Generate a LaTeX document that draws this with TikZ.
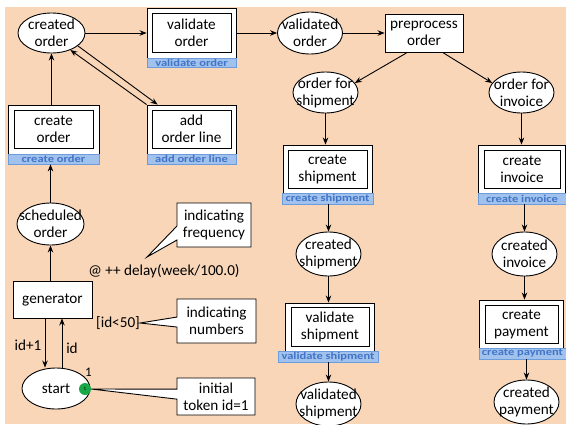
\documentclass[tikz,border=0pt]{standalone}
\usepackage{fontspec}
\setmainfont{Carlito}
\newfontfamily\lblfont[FakeStretch=1.2]{Carlito}
\usetikzlibrary{shapes.geometric,shapes.callouts,arrows.meta}
\definecolor{peach}{RGB}{249,214,184}
\definecolor{barfill}{RGB}{160,194,236}
\definecolor{barline}{RGB}{108,156,220}
\definecolor{bartext}{RGB}{66,116,200}
\definecolor{tokgreen}{RGB}{24,168,72}
\begin{document}
\begin{tikzpicture}[x=1pt,y=-1pt,
  txt/.style={font=\fontsize{15.2}{17}\selectfont, align=center, inner sep=0pt},
  place/.style={ellipse, draw, fill=white, line width=0.9pt, inner sep=0pt},
  outerbox/.style={draw, fill=white, line width=0.9pt, inner sep=0pt},
  innerbox/.style={draw, line width=0.9pt, inner sep=0pt, txt},
  bar/.style={draw=barline, fill=barfill, text=bartext, inner sep=0pt, line width=0.8pt,
    font={\lblfont\bfseries\fontsize{10.4}{12}\selectfont}},
  arr/.style={-{Stealth[length=7pt,width=5.5pt]}, line width=0.9pt},
  note/.style={rectangle callout, draw, fill=white, line width=0.9pt, inner sep=0pt, txt}
]
\useasboundingbox (0,0) rectangle (566,424);
\fill[white] (0,0) rectangle (566,424);
\fill[peach] (5,7) rectangle (566,424);

% ---------- places ----------
\node[place, minimum width=67, minimum height=40] (co) at (51.5,33) {};
\node[txt] (co-t) at (co) {created\\order};
\node[place, minimum width=65, minimum height=42] (vdo) at (310,33) {};
\node[txt] (vdo-t) at (vdo) {validated\\order};
\node[place, minimum width=65, minimum height=41] (ofs) at (325.5,92.5) {};
\node[txt] (ofs-t) at (ofs) {order for\\shipment};
\node[place, minimum width=65, minimum height=41] (ofi) at (521.5,92.5) {};
\node[txt] (ofi-t) at (ofi) {order for\\invoice};
\node[place, minimum width=65, minimum height=44] (crs) at (328.5,254) {};
\node[txt] (crs-t) at (crs) {created\\shipment};
\node[place, minimum width=65, minimum height=44] (cri) at (524.5,254) {};
\node[txt] (cri-t) at (cri) {created\\invoice};
\node[place, minimum width=65, minimum height=44] (vds) at (328.5,404) {};
\node[txt] (vds-t) at (vds) {validated\\shipment};
\node[place, minimum width=65, minimum height=44] (crp) at (526.5,402) {};
\node[txt] (crp-t) at (crp) {created\\payment};
\node[place, minimum width=67, minimum height=42] (so) at (50.5,224) {};
\node[txt] (so-t) at (so) {scheduled\\order};
\node[place, minimum width=68, minimum height=41] (st) at (56,388.5) {};
\node[txt] (st-t) at (st) {start};

% ---------- transitions ----------
\node[outerbox, minimum width=89, minimum height=50] (vo) at (191.5,33) {};
\node[innerbox, minimum width=79, minimum height=39] (vo-i) at (191.5,32.5) {validate\\order};
\node[bar, minimum width=89, minimum height=9] (vo-b) at (191.5,62.5) {validate order};

\node[outerbox, minimum width=91, minimum height=49] (cro) at (53.5,129.5) {};
\node[innerbox, minimum width=79, minimum height=38] (cro-i) at (53.5,129) {create\\order};
\node[bar, minimum width=91, minimum height=10] (cro-b) at (53.5,159) {create order};

\node[outerbox, minimum width=89, minimum height=49] (aol) at (191.5,129.5) {};
\node[innerbox, minimum width=79, minimum height=38] (aol-i) at (191.5,129) {add\\order line};
\node[bar, minimum width=89, minimum height=10] (aol-b) at (191.5,159) {add order line};

\node[outerbox, minimum width=89, minimum height=48] (cs) at (327.5,169) {};
\node[innerbox, minimum width=79, minimum height=38] (cs-i) at (327.5,169) {create\\shipment};
\node[bar, minimum width=91, minimum height=11] (cs-b) at (327.5,198.5) {create shipment};

\node[outerbox, minimum width=87, minimum height=48] (ci) at (521.5,169) {};
\node[innerbox, minimum width=76, minimum height=38] (ci-i) at (522,169) {create\\invoice};
\node[bar, minimum width=88, minimum height=11] (ci-b) at (522,198.5) {create invoice};

\node[outerbox, minimum width=89, minimum height=48] (vs) at (329.5,327) {};
\node[innerbox, minimum width=78, minimum height=39] (vs-i) at (330,326.5) {validate\\shipment};
\node[bar, minimum width=100, minimum height=11] (vs-b) at (328,356.5) {validate shipment};

\node[outerbox, minimum width=84, minimum height=48] (cp) at (521,324) {};
\node[innerbox, minimum width=73, minimum height=38] (cp-i) at (521.5,324) {create\\payment};
\node[bar, minimum width=87, minimum height=11] (cp-b) at (522.5,353.5) {create payment};

\node[outerbox, txt, minimum width=78, minimum height=38] (pp) at (424,33.5) {preprocess\\order};
\node[outerbox, txt, minimum width=79, minimum height=37] (gen) at (52.5,299.5) {generator};

% ---------- token ----------
\node[circle, fill=tokgreen, minimum size=12, inner sep=0pt, font=\fontsize{5}{5}\selectfont] (tok) at (85,389) {1};
\node[txt, font=\fontsize{13}{15}\selectfont] (tok-n) at (88.5,372) {1};

% ---------- inscriptions ----------
\node[txt] (lab-delay) at (164,271) {@ ++ delay(week/100.0)};
\node[txt] (lab-guard) at (118,323) {[id<50]};
\node[txt] (lab-id1) at (28,345) {id+1};
\node[txt] (lab-id) at (72,348) {id};

% ---------- callouts ----------
\coordinate (p-freq) at (147,257);
\coordinate (p-num) at (140,323);
\node[note, minimum width=74, minimum height=44, callout absolute pointer={(p-freq)}, callout pointer width=14pt] (n-freq) at (214,225) {indicating\\frequency};
\node[note, minimum width=79, minimum height=44, callout absolute pointer={(p-num)}, callout pointer width=10pt] (n-num) at (216.5,321) {indicating\\numbers};
\node[note, minimum width=78, minimum height=37, callout absolute pointer={(tok.east)}, callout pointer width=10pt] (n-init) at (216,396.5) {initial\\token id=1};

% ---------- arcs ----------
\draw[arr] (co.east) -- (vo.west);
\draw[arr] (vo.east) -- (vdo.west);
\draw[arr] (vdo.east) -- (pp.west |- vdo.east);
\draw[arr] (pp.228) -- (ofs.18);
\draw[arr] (pp.315) -- (ofi.162);
\draw[arr] (ofs.south) -- (ofs.south |- cs.north);
\draw[arr] (ofi.south) -- (ofi.south |- ci.north);
\draw[arr] (crs.north |- cs-b.south) -- (crs.north);
\draw[arr] (crs.south) -- (crs.south |- vs.north);
\draw[arr] (vds.north |- vs-b.south) -- (vds.north);
\draw[arr] (cri.north |- ci-b.south) -- (cri.north);
\draw[arr] (cri.south) -- (cri.south |- cp.north);
\draw[arr] (crp.north |- cp-b.south) -- (crp.north);
\draw[arr] (co.south |- cro.north) -- (co.south);
\draw[arr] (co.334) -- ([xshift=11pt]aol.north west);
\draw[arr] (aol.north west) -- (co.318);
\draw[arr] (so.north) -- (so.north |- cro-b.south);
\draw[arr] (so.south |- gen.north) -- (so.south);
\draw[arr] ([xshift=-7.5pt]gen.south) -- ([xshift=-7.5pt]gen.south |- st.north);
\draw[arr] ([xshift=9.5pt]gen.south |- st.north) -- ([xshift=9.5pt]gen.south);
\end{tikzpicture}
\end{document}
